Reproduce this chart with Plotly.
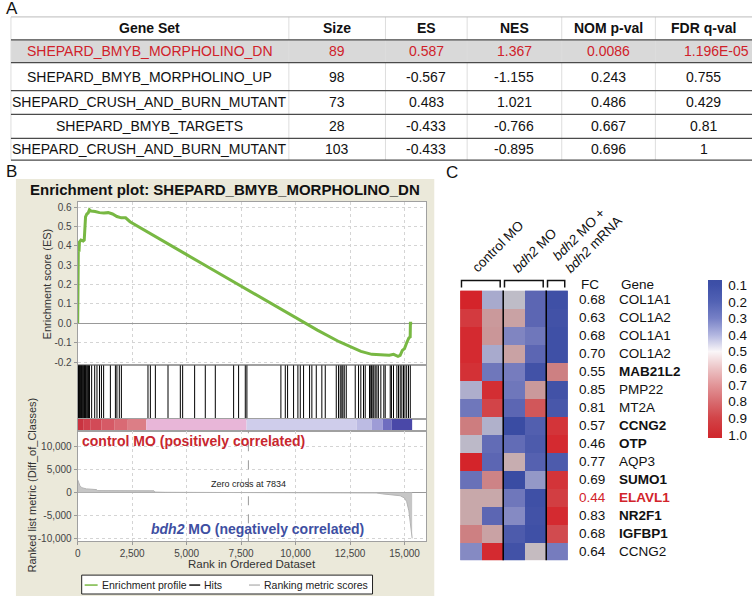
import plotly.graph_objects as go

W, H = 752, 600
def X(px): return px / W
def Y(py): return 1 - py / H

FONT = "Liberation Sans, Arial, Helvetica, sans-serif"

# ---------------- Panel A : GSEA summary table ----------------
table_header = ["Gene Set", "Size", "ES", "NES", "NOM p-val", "FDR q-val"]
gene_sets = ["SHEPARD_BMYB_MORPHOLINO_DN", "SHEPARD_BMYB_MORPHOLINO_UP",
             "SHEPARD_CRUSH_AND_BURN_MUTANT", "SHEPARD_BMYB_TARGETS",
             "SHEPARD_CRUSH_AND_BURN_MUTANT"]
set_size = ["89", "98", "73", "28", "103"]
set_es = ["0.587", "-0.567", "0.483", "-0.433", "-0.433"]
set_nes = ["1.367", "-1.155", "1.021", "-0.766", "-0.895"]
set_nom_p = ["0.0086", "0.243", "0.486", "0.667", "0.696"]
set_fdr_q = ["1.196E-05", "0.755", "0.429", "0.81", "1"]

# ---------------- Panel B : enrichment plot ----------------
es_rank = [0, 15, 30, 45, 60, 80, 150, 250, 300, 330, 360, 420, 480, 540, 620, 800,
           1000, 1200, 1400, 1600, 1800, 2000, 2200, 2400, 3000, 4000, 5000, 6000,
           7000, 8000, 9000, 10000, 10450, 11000, 12000, 13000, 13500, 13800, 14000,
           14300, 14500, 14700, 14800, 14900, 15000, 15050, 15100, 15200, 15260,
           15270, 15350]
es_score = [0.0, 0.30, 0.40, 0.38, 0.37, 0.42, 0.43, 0.425, 0.43, 0.52, 0.55, 0.565,
            0.57, 0.587, 0.58, 0.578, 0.572, 0.57, 0.572, 0.565, 0.552, 0.545, 0.545,
            0.525, 0.485, 0.42, 0.355, 0.29, 0.225, 0.16, 0.095, 0.03, 0.0, -0.035,
            -0.095, -0.145, -0.16, -0.163, -0.162, -0.165, -0.16, -0.17, -0.165,
            -0.14, -0.13, -0.11, -0.10, -0.075, -0.07, 0.0, 0.0]

hit_ranks = [15, 40, 70, 95, 120, 150, 180, 210, 245, 280, 305, 330, 350, 380, 420,
             460, 500, 540, 640, 780, 885, 1000, 1090, 1190, 1500, 1730, 1800, 1910,
             2005, 3225, 3335, 3565, 4145, 4710, 4817, 5367, 5856, 6316, 7156, 7385,
             7692, 7766, 9326, 9528, 9633, 9908, 10106, 10216, 10367, 10642, 10748,
             10950, 11206, 11362, 11867, 11972, 12050, 12123, 12170, 12234, 12326,
             12738, 12890, 12995, 13118, 13196, 13394, 13455, 13480, 13547, 13590,
             13655, 13731, 13800, 13914, 14050, 14114, 14344, 14400, 14495, 14648,
             14725, 14803, 14877, 14954, 15020, 15100, 15183, 15265]

metric_rank = [0, 20, 50, 100, 190, 400, 870, 900, 3500, 3550, 4000, 7834, 12000,
               13700, 14000, 14500, 14800, 15000, 15100, 15200, 15280, 15330, 15350]
metric_score = [2800, 2500, 2000, 1500, 1050, 800, 640, 420, 380, 100, 50, 0, -20,
                -100, -300, -500, -700, -1200, -2000, -4000, -7000, -10000, -10000]

strip_start = [0, 250, 600, 1100, 1700, 2300, 3150, 7750, 12800, 13500, 14000, 14400]
strip_end = [250, 600, 1100, 1700, 2300, 3150, 7750, 12800, 13500, 14000, 14400, 15350]
strip_color = ["#c93340", "#cf3f4c", "#d24a57", "#d65a66", "#d96a74", "#dc7e86",
               "#e8b6d8", "#cfcdeb", "#bcbbe3", "#9e9cd6", "#6f6dc0", "#4a48a8"]

zero_cross = 7834
rank_ticks = [0, 2500, 5000, 7500, 10000, 12500, 15000]
rank_ticklabels = ["0", "2,500", "5,000", "7,500", "10,000", "12,500", "15,000"]
es_ticks = [-0.2, -0.1, 0.0, 0.1, 0.2, 0.3, 0.4, 0.5, 0.6]
es_ticklabels = ["-0.2", "-0.1", "0.0", "0.1", "0.2", "0.3", "0.4", "0.5", "0.6"]
metric_ticks = [-10000, -5000, 0, 5000, 10000]
metric_ticklabels = ["-10,000", "-5,000", "0", "5,000", "10,000"]

# ---------------- Panel C : heatmap ----------------
sample_groups = ["control MO", "<i>bdh2</i> MO", "<i>bdh2</i> MO +<br><i>bdh2</i> mRNA"]
group_sizes = [2, 2, 1]
genes = ["COL1A1", "COL1A2", "COL1A1", "COL1A2", "MAB21L2", "PMP22", "MT2A", "CCNG2",
         "OTP", "AQP3", "SUMO1", "ELAVL1", "NR2F1", "IGFBP1", "CCNG2"]
fold_change = ["0.68", "0.63", "0.68", "0.70", "0.55", "0.85", "0.81", "0.57", "0.46",
               "0.77", "0.69", "0.44", "0.83", "0.68", "0.64"]
gene_bold = [False, False, False, False, True, False, False, True, True, False, True,
             True, True, True, False]
gene_highlight = [False] * 11 + [True] + [False] * 3
expr = [
    [1.00, 0.40, 0.48, 0.22, 0.12],
    [0.93, 0.65, 0.62, 0.22, 0.13],
    [0.98, 0.66, 0.32, 0.28, 0.12],
    [0.98, 0.40, 0.62, 0.22, 0.12],
    [0.96, 0.28, 0.30, 0.13, 0.73],
    [0.42, 0.97, 0.28, 0.65, 0.13],
    [0.28, 0.90, 0.22, 0.85, 0.15],
    [0.74, 0.43, 0.10, 0.19, 0.95],
    [0.47, 0.24, 0.24, 0.17, 0.98],
    [1.00, 0.22, 0.58, 0.20, 0.17],
    [0.26, 0.72, 0.10, 0.36, 0.95],
    [0.60, 0.60, 0.28, 0.12, 0.92],
    [0.60, 0.22, 0.33, 0.13, 0.98],
    [0.73, 0.62, 0.17, 0.12, 0.88],
    [0.33, 0.98, 0.13, 0.52, 0.30],
]
cbar_ticks = [0.1, 0.2, 0.3, 0.4, 0.5, 0.6, 0.7, 0.8, 0.9, 1.0]

# =====================================================================
fig = go.Figure()
shapes = []
ann = []

def pann(px, py, text, size=14, color="#111", **kw):
    d = dict(x=X(px), y=Y(py), xref="paper", yref="paper", text=text,
             xanchor="center", yanchor="middle",
             font=dict(size=size, color=color, family=FONT), showarrow=False)
    d.update(kw)
    ann.append(d)

# ---------- Panel A ----------
col_edges = [8, 287, 384, 466, 561, 655, 752]
tbl_top = 17
row_edges = [40, 63, 91, 115, 139, 161]
n_rows = len(gene_sets)
tbl_bot = row_edges[-1]

shapes.append(dict(type="rect", xref="paper", yref="paper", x0=X(8), x1=X(752),
                   y0=Y(row_edges[1]), y1=Y(row_edges[0]), fillcolor="#d9d9d9",
                   line=dict(width=0), layer="below"))
for e in col_edges[:-1]:
    shapes.append(dict(type="line", xref="paper", yref="paper", x0=X(e), x1=X(e),
                       y0=Y(tbl_bot), y1=Y(tbl_top), line=dict(color="#dddddd", width=1)))
shapes.append(dict(type="line", xref="paper", yref="paper", x0=X(8), x1=X(752),
                   y0=Y(tbl_top), y1=Y(tbl_top), line=dict(color="#bbbbbb", width=1)))
for yy in row_edges:
    shapes.append(dict(type="line", xref="paper", yref="paper", x0=X(8), x1=X(752),
                       y0=Y(yy), y1=Y(yy), line=dict(color="#4a4a4a", width=1.3)))

centers = [(col_edges[i] + col_edges[i + 1]) / 2 for i in range(6)]
for i, h in enumerate(table_header):
    pann(centers[i], (tbl_top + row_edges[0]) / 2, "<b>%s</b>" % h, 14)
columns = [gene_sets, set_size, set_es, set_nes, set_nom_p, set_fdr_q]
for r in range(n_rows):
    yc = (row_edges[r] + row_edges[r + 1]) / 2
    col = "#d0212a" if r == 0 else "#111"
    for c in range(6):
        txt = columns[c][r]
        if c == 5 and r == 0:
            pann(751, yc, txt, 14, col, xanchor="right")
        else:
            pann(centers[c], yc, txt, 14, col)

# panel letters
for letter, px, py in [("A", 9, 9), ("B", 9, 172), ("C", 451, 173)]:
    pann(px, py, letter, 17)

# ---------- Panel B ----------
shapes.append(dict(type="rect", xref="paper", yref="paper", x0=X(13), x1=X(433),
                   y0=Y(599), y1=Y(180), fillcolor="#ebe9da", line=dict(width=0),
                   layer="below"))
shapes.append(dict(type="rect", xref="paper", yref="paper", x0=X(75), x1=X(425),
                   y0=Y(544), y1=Y(203), fillcolor="white", line=dict(width=0),
                   layer="below"))

fig.add_trace(go.Scatter(x=es_rank, y=es_score, mode="lines", xaxis="x", yaxis="y",
                         line=dict(color="#78b843", width=3), showlegend=False,
                         hoverinfo="skip"))
hx, hy = [], []
for h in hit_ranks:
    hx += [h, h, None]
    hy += [0, 1, None]
fig.add_trace(go.Scatter(x=hx, y=hy, mode="lines", xaxis="x2", yaxis="y2",
                         line=dict(color="black", width=1), showlegend=False,
                         hoverinfo="skip"))
fig.add_trace(go.Bar(x=[(s + e) / 2 for s, e in zip(strip_start, strip_end)],
                     width=[e - s for s, e in zip(strip_start, strip_end)],
                     y=[1] * len(strip_start), base=0, xaxis="x3", yaxis="y3",
                     marker=dict(color=strip_color, line=dict(width=0)),
                     showlegend=False, hoverinfo="skip"))
fig.add_trace(go.Scatter(x=metric_rank, y=metric_score, mode="lines", fill="tozeroy",
                         fillcolor="#c6c6c6", line=dict(color="#b4b4b4", width=1),
                         xaxis="x4", yaxis="y4", showlegend=False, hoverinfo="skip"))
shapes.append(dict(type="line", xref="x4", yref="y4 domain", x0=zero_cross,
                   x1=zero_cross, y0=0, y1=1,
                   line=dict(color="#9a9a9a", width=1, dash="dash")))
ann.append(dict(x=zero_cross, y=0, xref="x4", yref="y4", xanchor="center",
                yanchor="bottom", yshift=2,
                text="Zero cross at %d" % zero_cross, showarrow=False,
                font=dict(size=9, color="#222", family=FONT)))

pann(223, 190, "<b>Enrichment plot: SHEPARD_BMYB_MORPHOLINO_DN</b>", 15)
pann(77, 443, "<b>control MO (positively correlated)</b>", 14, "#c8262e",
     xanchor="left")
pann(364, 532, "<b><i>bdh2</i> MO (negatively correlated)</b>", 14, "#3e4fa2",
     xanchor="right")
pann(44, 285, "Enrichment score (ES)", 11, "#333", textangle=-90)
pann(29, 487, "Ranked list metric (Diff_of_Classes)", 11, "#333", textangle=-90)
pann(250, 567, "Rank in Ordered Dataset", 11.5, "#333")

# legend box
shapes.append(dict(type="rect", xref="paper", yref="paper", x0=X(79), x1=X(371),
                   y0=Y(597), y1=Y(578), fillcolor="white",
                   line=dict(color="#222", width=1)))
for label, colr, lx0, lx1, tx in [("Enrichment profile", "#78b843", 82, 95, 97),
                                  ("Hits", "#111", 187, 198, 200),
                                  ("Ranking metric scores", "#bdbdbd", 247, 258, 260)]:
    shapes.append(dict(type="line", xref="paper", yref="paper", x0=X(lx0), x1=X(lx1),
                       y0=Y(588), y1=Y(588), line=dict(color=colr, width=1.5)))
    pann(tx, 588, label, 10.5, "#222", xanchor="left")

# ---------- Panel C ----------
n_samp = sum(group_sizes)
cols = list(range(n_samp))
rows = list(range(len(genes)))
vivid = [(0.07, "rgb(60,78,165)"), (0.1, "rgb(62,80,168)"), (0.2, "rgb(82,98,180)"),
         (0.3, "rgb(118,128,198)"), (0.4, "rgb(178,182,224)"), (0.5, "rgb(250,246,248)"),
         (0.6, "rgb(236,196,198)"), (0.7, "rgb(226,150,153)"), (0.8, "rgb(216,108,112)"),
         (0.9, "rgb(210,68,72)"), (1.0, "rgb(208,42,47)"), (1.02, "rgb(208,40,45)")]
vivid_scale = sorted([((1.02 - v) / 0.95, c) for v, c in vivid])
muted_scale = [[0.0, "rgb(58,76,163)"], [1 / 9, "rgb(85,97,176)"], [2 / 9, "rgb(118,124,190)"],
               [3 / 9, "rgb(168,170,205)"], [4 / 9, "rgb(196,192,198)"],
               [5 / 9, "rgb(200,168,170)"], [6 / 9, "rgb(204,138,140)"],
               [7 / 9, "rgb(207,105,108)"], [8 / 9, "rgb(210,68,72)"], [1.0, "rgb(212,36,42)"]]

fig.add_trace(go.Heatmap(z=[[-v for v in r] for r in expr], x=cols, y=rows,
                         coloraxis="coloraxis2", xaxis="x5", yaxis="y5",
                         hoverinfo="skip"))
fig.add_trace(go.Heatmap(z=expr, x=cols, y=rows, coloraxis="coloraxis",
                         xaxis="x5", yaxis="y5", hoverinfo="skip"))

# group separators and brackets
start = 0
bounds = []
for gs in group_sizes:
    bounds.append((start, start + gs - 1))
    start += gs
for (s, e) in bounds[:-1]:
    shapes.append(dict(type="line", xref="x5", yref="y5 domain", x0=e + 0.5, x1=e + 0.5,
                       y0=0, y1=1, line=dict(color="black", width=1.5)))
for (s, e) in bounds:
    x0, x1 = s - 0.5 + 0.06, e + 0.5 - 0.14
    shapes.append(dict(type="path", xref="x5", yref="paper",
                       path="M %f,%f L %f,%f L %f,%f L %f,%f" % (
                           x0, Y(289), x0, Y(282), x1, Y(282), x1, Y(289)),
                       line=dict(color="#111", width=1.5)))
for lbl, (cx, cy) in zip(sample_groups, [(497, 248), (534, 252), (587, 240)]):
    pann(cx, cy, lbl, 13.5, textangle=-45, align="left")

pann(578, 286, "FC", 13.5, xanchor="left")
pann(618, 286, "Gene", 13.5, xanchor="left")
for i, g in enumerate(genes):
    colr = "#d2232a" if gene_highlight[i] else "#111"
    gtxt = "<b>%s</b>" % g if gene_bold[i] else g
    ann.append(dict(x=X(576), y=i, xref="paper", yref="y5", xanchor="left",
                    yanchor="middle", text=fold_change[i],
                    font=dict(size=13.5, color=colr, family=FONT), showarrow=False))
    ann.append(dict(x=X(616), y=i, xref="paper", yref="y5", xanchor="left",
                    yanchor="middle", text=gtxt,
                    font=dict(size=13.5, color=colr, family=FONT), showarrow=False))

# =====================================================================
xr = [0, 16000]
common_x = dict(domain=[X(75), X(425)], range=xr, showline=True, mirror=True,
                linecolor="#a0a0a0", linewidth=1, zeroline=False, fixedrange=True)
grid = dict(showgrid=True, gridcolor="#d4d4d4", griddash="dot", gridwidth=1)
nogrid = dict(showgrid=False)

fig.update_layout(
    width=W, height=H, margin=dict(l=0, r=0, t=0, b=0, pad=0),
    paper_bgcolor="white", plot_bgcolor="white",
    font=dict(family=FONT, color="#111"),
    showlegend=False,
    xaxis=dict(**common_x, **grid, anchor="y", tickvals=rank_ticks, showticklabels=False,
               ticks=""),
    yaxis=dict(domain=[Y(367), Y(203)], range=[-0.216, 0.627], anchor="x",
               tickvals=es_ticks, ticktext=es_ticklabels, ticks="outside", ticklen=3,
               tickcolor="#999", tickfont=dict(size=10, color="#444"),
               showline=True, mirror=True, linecolor="#a0a0a0", zeroline=True,
               zerolinecolor="#999999", zerolinewidth=1, **grid),
    xaxis2=dict(**common_x, **nogrid, anchor="y2", showticklabels=False, ticks=""),
    yaxis2=dict(domain=[Y(421), Y(367)], range=[0, 1], anchor="x2", showticklabels=False,
                ticks="", showline=True, mirror=True, linecolor="#a0a0a0", zeroline=False,
                showgrid=False),
    xaxis3=dict(**common_x, **nogrid, anchor="y3", showticklabels=False, ticks=""),
    yaxis3=dict(domain=[Y(433), Y(421)], range=[0, 1], anchor="x3", showticklabels=False,
                ticks="", showline=True, mirror=True, linecolor="#a0a0a0", zeroline=False,
                showgrid=False),
    xaxis4=dict(**common_x, **grid, anchor="y4", tickvals=rank_ticks,
                ticktext=rank_ticklabels, ticks="outside", ticklen=3, tickcolor="#999",
                tickfont=dict(size=10, color="#444")),
    yaxis4=dict(domain=[Y(544), Y(433)], range=[-10650, 13480], anchor="x4",
                tickvals=metric_ticks, ticktext=metric_ticklabels, ticks="outside",
                ticklen=3, tickcolor="#999", tickfont=dict(size=10, color="#444"),
                showline=True, mirror=True, linecolor="#a0a0a0", zeroline=True,
                zerolinecolor="#999999", zerolinewidth=1, **grid),
    xaxis5=dict(domain=[X(459), X(567)], range=[-0.5, n_samp - 0.5], visible=False,
                anchor="y5"),
    yaxis5=dict(domain=[Y(563), Y(292)], range=[len(genes) - 0.5, -0.5], visible=False,
                anchor="x5"),
    coloraxis=dict(colorscale=muted_scale, cmin=0.1, cmax=1.0, showscale=False),
    coloraxis2=dict(colorscale=[[p, c] for p, c in vivid_scale], cmin=-1.02, cmax=-0.07,
                    showscale=True,
                    colorbar=dict(x=X(708), xanchor="left", y=Y(361), yanchor="middle",
                                  len=158, lenmode="pixels", thickness=14,
                                  thicknessmode="pixels", outlinewidth=0, xpad=0, ypad=0,
                                  tickvals=[-v for v in cbar_ticks],
                                  ticktext=["%.1f" % v for v in cbar_ticks],
                                  ticks="outside", ticklen=4,
                                  tickcolor="rgba(0,0,0,0)",
                                  tickfont=dict(size=13.5, color="#111", family=FONT))),
    shapes=shapes,
    annotations=ann,
)

fig.write_html("out.html", config={"displayModeBar": False},
               post_script="document.body.style.margin='0px';"
                           "document.body.style.padding='0px';")
